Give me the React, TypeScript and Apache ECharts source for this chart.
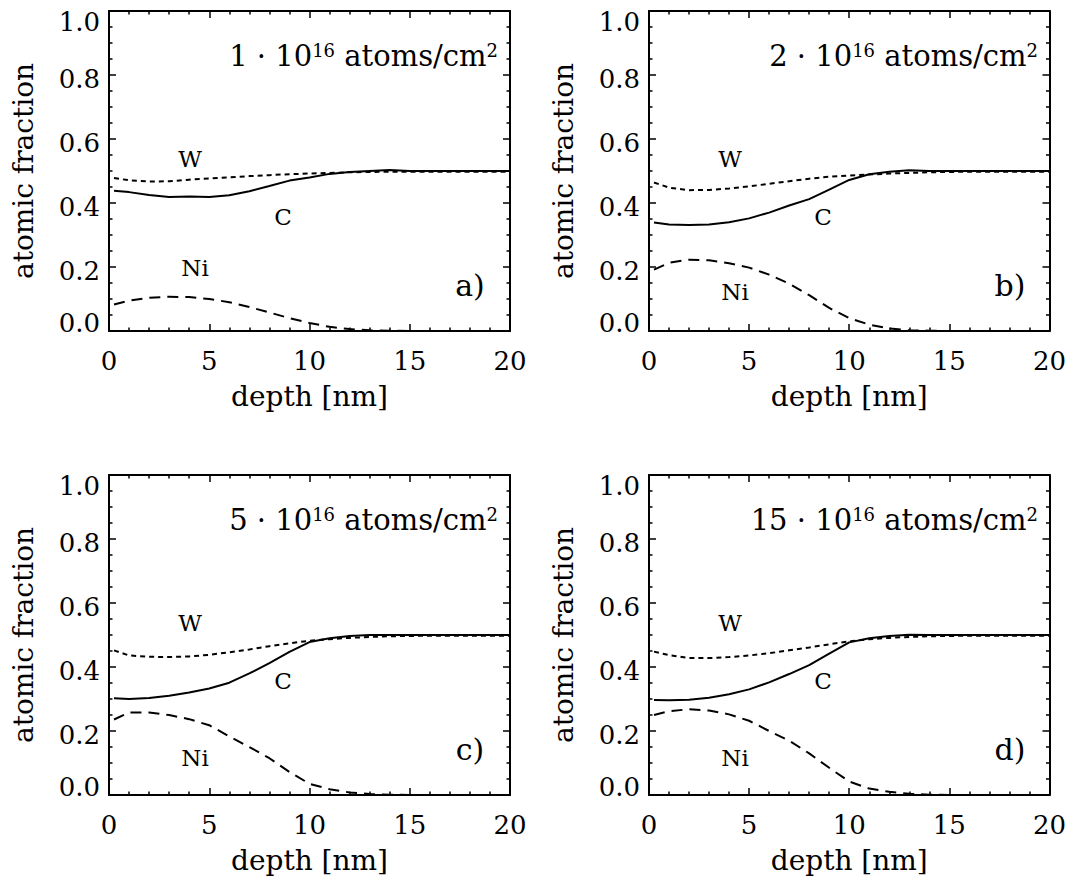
import React, { useEffect, useRef } from "react";
import * as echarts from "echarts";

// depth [nm]
const depth = [0.25, 1, 2, 3, 4, 5, 6, 7, 8, 9, 10, 11, 12, 13, 14, 15, 16, 17, 18, 19, 20];

// a) 1e16 atoms/cm2
const cA = [0.438, 0.434, 0.425, 0.419, 0.420, 0.419, 0.424, 0.437, 0.453, 0.470, 0.480, 0.491, 0.497, 0.500, 0.503, 0.500, 0.500, 0.500, 0.500, 0.500, 0.500];
const wA = [0.478, 0.471, 0.467, 0.468, 0.473, 0.477, 0.480, 0.484, 0.487, 0.490, 0.492, 0.494, 0.496, 0.497, 0.498, 0.498, 0.498, 0.498, 0.498, 0.498, 0.498];
const niA = [0.083, 0.095, 0.104, 0.107, 0.106, 0.100, 0.090, 0.075, 0.058, 0.040, 0.025, 0.013, 0.006, 0.002, 0.001, 0, 0, 0, 0, 0, 0];

// b) 2e16 atoms/cm2
const cB = [0.339, 0.333, 0.331, 0.333, 0.340, 0.352, 0.370, 0.392, 0.412, 0.442, 0.472, 0.490, 0.498, 0.502, 0.500, 0.500, 0.500, 0.500, 0.500, 0.500, 0.500];
const wB = [0.464, 0.448, 0.440, 0.441, 0.445, 0.452, 0.460, 0.468, 0.476, 0.482, 0.486, 0.489, 0.492, 0.494, 0.496, 0.497, 0.498, 0.498, 0.498, 0.498, 0.498];
const niB = [0.192, 0.213, 0.223, 0.221, 0.212, 0.198, 0.176, 0.148, 0.112, 0.072, 0.040, 0.020, 0.008, 0.002, 0.001, 0, 0, 0, 0, 0, 0];

// c) 5e16 atoms/cm2
const cC = [0.302, 0.300, 0.303, 0.310, 0.320, 0.333, 0.351, 0.380, 0.412, 0.447, 0.478, 0.490, 0.497, 0.500, 0.500, 0.500, 0.500, 0.500, 0.500, 0.500, 0.500];
const wC = [0.452, 0.436, 0.432, 0.431, 0.433, 0.438, 0.446, 0.455, 0.465, 0.474, 0.482, 0.487, 0.491, 0.494, 0.496, 0.497, 0.498, 0.498, 0.498, 0.498, 0.498];
const niC = [0.236, 0.258, 0.258, 0.250, 0.237, 0.218, 0.183, 0.150, 0.115, 0.072, 0.035, 0.018, 0.008, 0.003, 0.001, 0, 0, 0, 0, 0, 0];

// d) 15e16 atoms/cm2
const cD = [0.297, 0.296, 0.298, 0.304, 0.315, 0.330, 0.352, 0.378, 0.406, 0.442, 0.477, 0.490, 0.497, 0.501, 0.500, 0.500, 0.500, 0.500, 0.500, 0.500, 0.500];
const wD = [0.448, 0.437, 0.428, 0.428, 0.431, 0.436, 0.443, 0.452, 0.461, 0.471, 0.480, 0.487, 0.491, 0.494, 0.496, 0.497, 0.498, 0.498, 0.498, 0.498, 0.498];
const niD = [0.250, 0.262, 0.268, 0.264, 0.252, 0.232, 0.200, 0.170, 0.130, 0.085, 0.042, 0.020, 0.010, 0.004, 0.001, 0, 0, 0, 0, 0, 0];

const doses = ["1", "2", "5", "15"];
const panelLetters = ["a)", "b)", "c)", "d)"];
const elementNames = ["W", "C", "Ni"];

const FONT = "DejaVu Serif";

export default function App() {
  const ref = useRef<HTMLDivElement>(null);

  useEffect(() => {
    if (!ref.current) return;
    const chart = echarts.init(ref.current, null, { renderer: "svg" });

    const panels = [
      { left: 109, top: 11, c: cA, w: wA, ni: niA, niDy: 257 },
      { left: 649, top: 11, c: cB, w: wB, ni: niB, niDy: 281 },
      { left: 109, top: 475, c: cC, w: wC, ni: niC, niDy: 283 },
      { left: 649, top: 475, c: cD, w: wD, ni: niD, niDy: 283 },
    ];
    const W = 401;
    const H = 320;

    const black = "#000";
    const tickStyle = { color: black, width: 1.5 };
    const lineAx = { show: true, onZero: false, lineStyle: { color: black, width: 2 } };

    const grid: any[] = [];
    const xAxis: any[] = [];
    const yAxis: any[] = [];
    const series: any[] = [];
    const graphic: any[] = [];

    const pairs = (ys: number[]) => depth.map((d, i) => [d, ys[i]]);

    panels.forEach((p, i) => {
      grid.push({ left: p.left, top: p.top, width: W, height: H, containLabel: false });
      const xBase = {
        gridIndex: i,
        type: "value",
        min: 0,
        max: 20,
        interval: 5,
        axisLine: lineAx,
        axisTick: { show: true, inside: true, length: 7, lineStyle: tickStyle },
        minorTick: { show: true, splitNumber: 5, length: 3.5, lineStyle: tickStyle },
        splitLine: { show: false },
        minorSplitLine: { show: false },
      };
      xAxis.push({
        ...xBase,
        position: "bottom",
        axisLabel: { show: true, color: black, fontFamily: FONT, fontSize: 26, margin: 17 },
        name: "depth [nm]",
        nameLocation: "middle",
        nameGap: 51,
        nameTextStyle: { color: black, fontFamily: FONT, fontSize: 28 },
      });
      xAxis.push({ ...xBase, position: "top", axisLabel: { show: false } });

      const yBase = {
        gridIndex: i,
        type: "value",
        min: 0,
        max: 1,
        interval: 0.2,
        axisLine: lineAx,
        axisTick: { show: true, inside: true, length: 7, lineStyle: tickStyle },
        minorTick: { show: true, splitNumber: 4, length: 3.5, lineStyle: tickStyle },
        splitLine: { show: false },
        minorSplitLine: { show: false },
      };
      const lbl = { color: black, fontFamily: FONT, fontSize: 26 };
      yAxis.push({
        ...yBase,
        position: "left",
        axisLabel: {
          show: true,
          margin: 9,
          formatter: (v: number) => {
            const t = v.toFixed(1);
            if (v <= 0) return "{mn|" + t + "}";
            if (v >= 1) return "{mx|" + t + "}";
            return "{n|" + t + "}";
          },
          rich: {
            n: { ...lbl, padding: [7, 0, 0, 0] },
            mn: { ...lbl, padding: [0, 0, 17, 0] },
            mx: { ...lbl, padding: [22, 0, 0, 0] },
          },
        },
        name: "atomic fraction",
        nameLocation: "middle",
        nameGap: 72,
        nameTextStyle: { color: black, fontFamily: FONT, fontSize: 28 },
      });
      yAxis.push({ ...yBase, position: "right", axisLabel: { show: false } });

      const xi = i * 2;
      const yi = i * 2;
      series.push({
        type: "line",
        name: "C",
        xAxisIndex: xi,
        yAxisIndex: yi,
        data: pairs(p.c),
        showSymbol: false,
        lineStyle: { color: black, width: 2, type: "solid" },
        z: 3,
      });
      series.push({
        type: "line",
        name: "W",
        xAxisIndex: xi,
        yAxisIndex: yi,
        data: pairs(p.w),
        showSymbol: false,
        lineStyle: { color: black, width: 2, type: [5, 4] },
        z: 2,
      });
      series.push({
        type: "line",
        name: "Ni",
        xAxisIndex: xi,
        yAxisIndex: yi,
        data: pairs(p.ni),
        showSymbol: false,
        lineStyle: { color: black, width: 2, type: [11, 7] },
        z: 2,
      });

      // dose annotation
      graphic.push({
        type: "text",
        x: p.left + 389,
        y: p.top + 45,
        style: {
          text: "{n|" + doses[i] + " · 10}{s|16}{n| atoms/cm}{s|2}",
          align: "right",
          verticalAlign: "middle",
          fill: black,
          rich: {
            n: { fontFamily: FONT, fontSize: 29, fill: black },
            s: { fontFamily: FONT, fontSize: 18, fill: black, verticalAlign: "top" },
          },
        },
      });
      const small = { fontFamily: FONT, fontSize: 23, fill: black, align: "center", verticalAlign: "middle" };
      graphic.push({ type: "text", x: p.left + 81, y: p.top + 148, style: { ...small, text: elementNames[0] } });
      graphic.push({ type: "text", x: p.left + 174, y: p.top + 206, style: { ...small, text: elementNames[1] } });
      graphic.push({ type: "text", x: p.left + 86, y: p.top + p.niDy, style: { ...small, text: elementNames[2] } });
      graphic.push({
        type: "text",
        x: p.left + 361,
        y: p.top + 274,
        style: { fontFamily: FONT, fontSize: 30, fill: black, align: "center", verticalAlign: "middle", text: panelLetters[i] },
      });
    });

    chart.setOption({
      animation: false,
      backgroundColor: "#fff",
      grid,
      xAxis,
      yAxis,
      series,
      graphic,
    });

    return () => chart.dispose();
  }, []);

  return (
    <div
      ref={ref}
      style={{ position: "fixed", left: 0, top: 0, width: 1069, height: 881, background: "#fff" }}
    />
  );
}
